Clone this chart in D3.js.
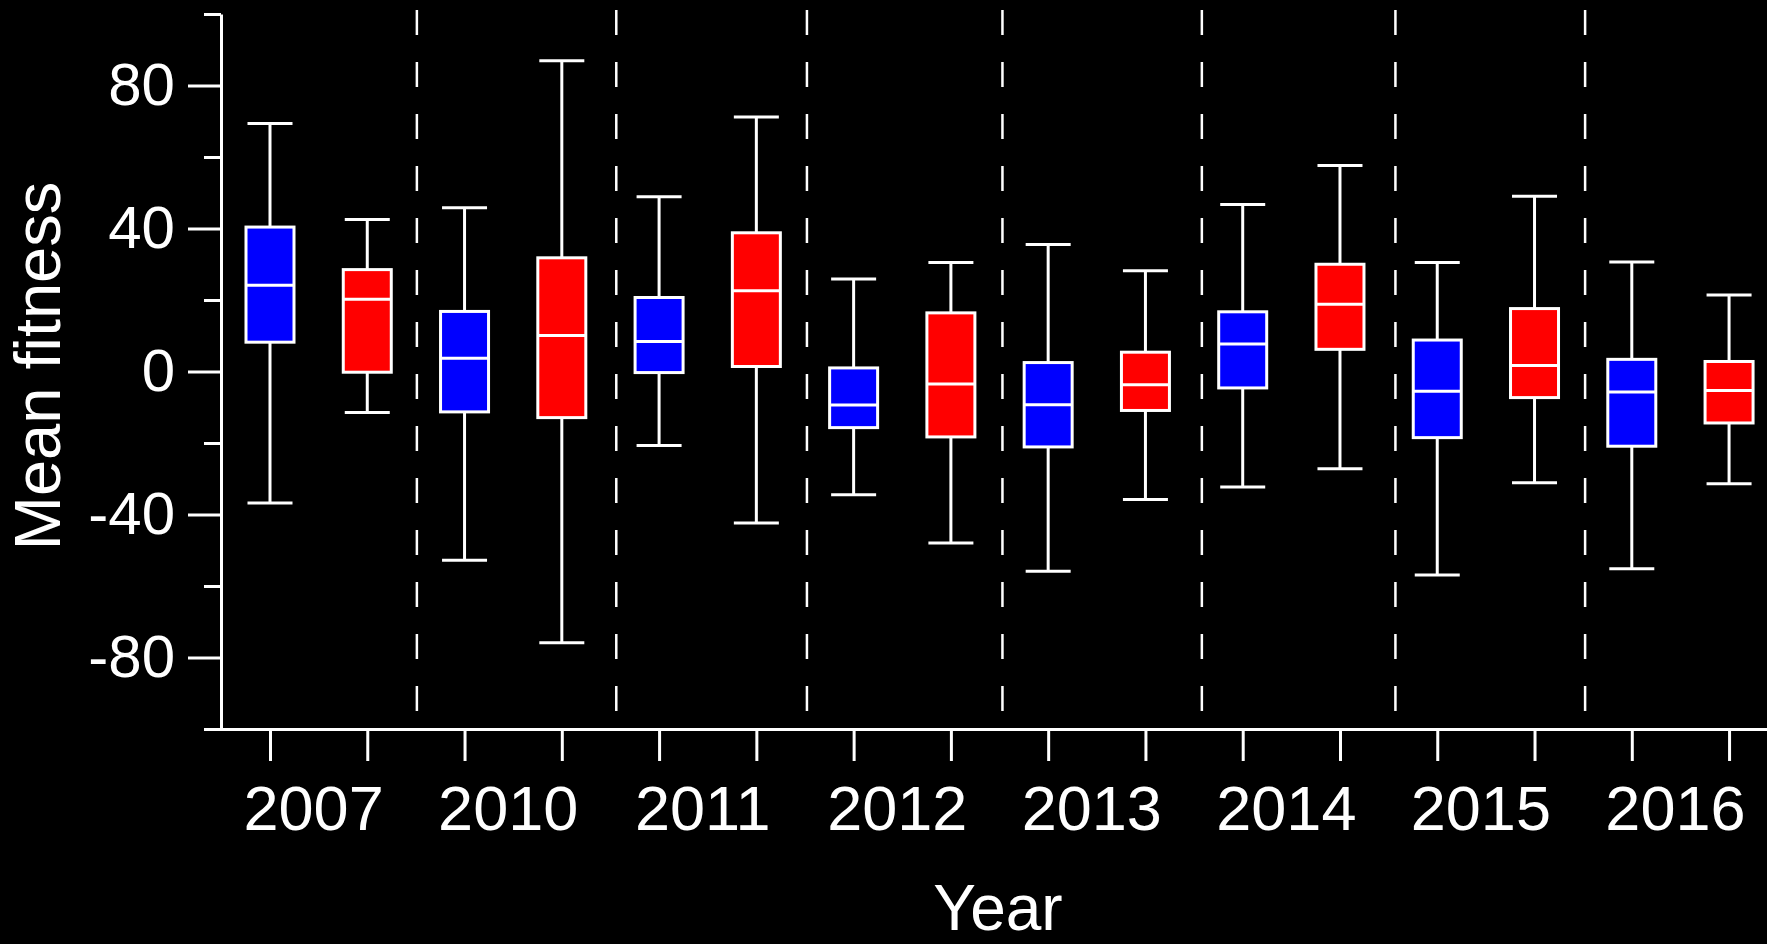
<!DOCTYPE html>
<html>
<head>
<meta charset="utf-8">
<script src="https://cdnjs.cloudflare.com/ajax/libs/d3/7.8.5/d3.min.js"></script>
<style>
  html, body { margin: 0; padding: 0; background: #000; }
  svg { display: block; }
  text { font-family: "Liberation Sans", Arial, sans-serif; fill: #fff; }
</style>
</head>
<body>
<script>
// years, two series per year (blue then red)
var years = ["2007", "2010", "2011", "2012", "2013", "2014", "2015", "2016"];

var blueHi  = [69.4, 45.8, 48.9, 25.9, 35.5, 46.7, 30.5, 30.6];
var blueQ3  = [40.4, 16.8, 20.7, 1.0, 2.5, 16.7, 8.8, 3.4];
var blueMed = [24.1, 3.7, 8.4, -9.4, -9.3, 7.7, -5.5, -5.7];
var blueQ1  = [8.2, -11.3, -0.3, -15.7, -21.1, -4.6, -18.5, -20.9];
var blueLo  = [-36.8, -52.8, -20.7, -34.5, -55.9, -32.3, -56.9, -55.2];

var redHi  = [42.5, 86.9, 71.2, 30.5, 28.2, 57.6, 49.0, 21.4];
var redQ3  = [28.5, 31.8, 38.8, 16.4, 5.4, 30.0, 17.6, 2.8];
var redMed = [20.2, 10.1, 22.6, -3.5, -3.7, 18.8, 1.7, -5.3];
var redQ1  = [-0.2, -12.9, 1.4, -18.3, -10.9, 6.2, -7.3, -14.4];
var redLo  = [-11.5, -75.9, -42.4, -48.0, -35.8, -27.2, -31.1, -31.4];

// separators between years, in box-slot units
var sepPos = [1.51, 3.56, 5.52, 7.53, 9.58, 11.57, 13.52];

var yMajor = [-80, -40, 0, 40, 80];
var yMinor = [-100, -60, -20, 20, 60, 100];

var W = 1767, H = 944;

var svg = d3.select("body").append("svg")
    .attr("width", W)
    .attr("height", H);

svg.append("rect").attr("width", W).attr("height", H).attr("fill", "#000");

// slot index -> x ; value -> y
var x = d3.scaleLinear().domain([-0.6785, 15.39]).range([204, 1767]);
var y = d3.scaleLinear().domain([-100, 100]).range([729, 14]);

// build box list from arrays
var boxes = [];
years.forEach(function (yr, i) {
    boxes.push({slot: 2 * i, fill: "#0000ff", lo: blueLo[i], q1: blueQ1[i], med: blueMed[i], q3: blueQ3[i], hi: blueHi[i]});
    boxes.push({slot: 2 * i + 1, fill: "#ff0000", lo: redLo[i], q1: redQ1[i], med: redMed[i], q3: redQ3[i], hi: redHi[i]});
});

// dashed separators
svg.append("g").selectAll("line")
    .data(sepPos)
    .enter().append("line")
    .attr("x1", function (d) { return x(d); })
    .attr("x2", function (d) { return x(d); })
    .attr("y1", 10)
    .attr("y2", 712)
    .attr("stroke", "#fff")
    .attr("stroke-width", 2.5)
    .attr("stroke-dasharray", "25,27");

// boxplots
var boxW = 48, capW = 45;
var g = svg.append("g").selectAll("g")
    .data(boxes)
    .enter().append("g")
    .attr("transform", function (d) { return "translate(" + x(d.slot) + ",0)"; });

g.append("line")
    .attr("x1", 0).attr("x2", 0)
    .attr("y1", function (d) { return y(d.hi); })
    .attr("y2", function (d) { return y(d.lo); })
    .attr("stroke", "#fff").attr("stroke-width", 3);

g.selectAll(".cap")
    .data(function (d) { return [d.hi, d.lo]; })
    .enter().append("line")
    .attr("class", "cap")
    .attr("x1", -capW / 2).attr("x2", capW / 2)
    .attr("y1", function (v) { return y(v); })
    .attr("y2", function (v) { return y(v); })
    .attr("stroke", "#fff").attr("stroke-width", 3);

g.append("rect")
    .attr("x", -boxW / 2)
    .attr("width", boxW)
    .attr("y", function (d) { return y(d.q3); })
    .attr("height", function (d) { return y(d.q1) - y(d.q3); })
    .attr("fill", function (d) { return d.fill; })
    .attr("stroke", "#fff").attr("stroke-width", 3);

g.append("line")
    .attr("x1", -boxW / 2).attr("x2", boxW / 2)
    .attr("y1", function (d) { return y(d.med); })
    .attr("y2", function (d) { return y(d.med); })
    .attr("stroke", "#fff").attr("stroke-width", 3);

// y axis
var yAxis = svg.append("g")
    .attr("transform", "translate(221,0)");
yAxis.call(d3.axisLeft(y).tickValues(yMajor).tickSize(33).tickSizeOuter(0).tickPadding(13)
    .tickFormat(function (d) { return String(d); }));
yAxis.append("g").call(d3.axisLeft(y).tickValues(yMinor).tickSize(17).tickFormat(""))
    .select(".domain").remove();

// x axis
var xAxis = svg.append("g").attr("transform", "translate(0," + y(-100) + ")");
xAxis.call(d3.axisBottom(x).tickValues(d3.range(16)).tickSize(32).tickSizeOuter(0).tickFormat(""));

svg.selectAll(".domain, .tick line")
    .attr("stroke", "#fff")
    .attr("stroke-width", 3);
yAxis.selectAll(".tick text")
    .attr("fill", "#fff")
    .style("font-size", "60px")
    .style("font-family", "'Liberation Sans', Arial, sans-serif");

// year labels centred under each pair
svg.append("g").selectAll("text")
    .data(years)
    .enter().append("text")
    .attr("x", function (d, i) { return x(2 * i + 0.5) - 5; })
    .attr("y", 830)
    .attr("text-anchor", "middle")
    .style("font-size", "63px")
    .text(function (d) { return d; });

// axis titles
svg.append("text")
    .attr("transform", "translate(60,366) rotate(-90)")
    .attr("text-anchor", "middle")
    .style("font-size", "65px")
    .text("Mean fitness");

svg.append("text")
    .attr("x", 998)
    .attr("y", 930)
    .attr("text-anchor", "middle")
    .style("font-size", "64px")
    .text("Year");
</script>
</body>
</html>
